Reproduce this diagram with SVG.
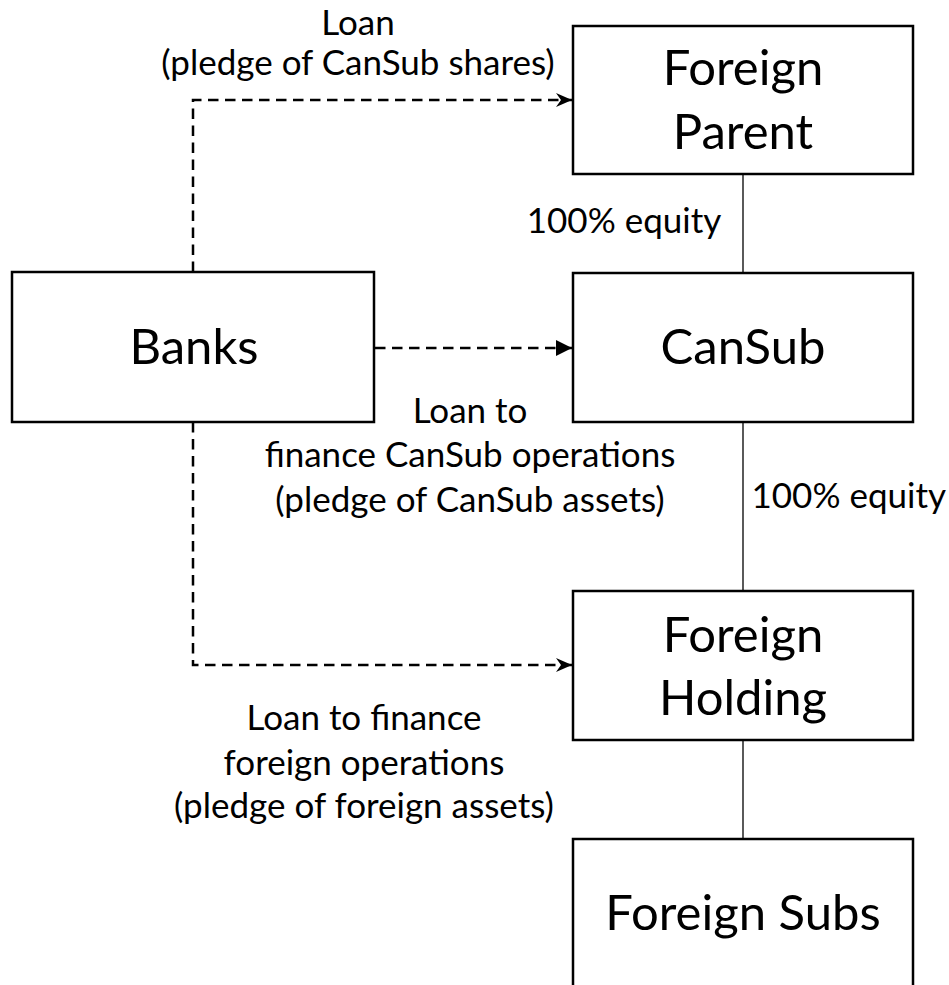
<svg xmlns="http://www.w3.org/2000/svg" width="949" height="985" viewBox="0 0 949 985">
  <style>
    .box { fill: #ffffff; stroke: #000000; stroke-width: 2.5; }
    .big { font-family: Lato, "Liberation Sans", sans-serif; font-size: 49px; fill: #000000; text-anchor: middle; }
    .small { font-family: Lato, "Liberation Sans", sans-serif; font-size: 35px; fill: #000000; text-anchor: middle; }
    .own { fill: none; stroke: #000000; stroke-width: 1.3; }
    .loan { fill: none; stroke: #000000; stroke-width: 2.5; stroke-dasharray: 10.5 6.5; }
  </style>
  <defs>
    <marker id="stealth" viewBox="0 0 16 14" refX="16" refY="7" markerWidth="16" markerHeight="14" markerUnits="userSpaceOnUse" orient="auto">
      <path d="M0,0 L16,7 L0,14 L5,7 Z" fill="#000000"/>
    </marker>
    <marker id="tri" viewBox="0 0 16 16" refX="16" refY="8" markerWidth="16" markerHeight="16" markerUnits="userSpaceOnUse" orient="auto">
      <path d="M0,0 L16,8 L0,16 Z" fill="#000000"/>
    </marker>
  </defs>

  <!-- connectors: ownership links and loans -->
  <g id="connectors">
    <line class="own" x1="743" y1="174" x2="743" y2="273"/>
    <line class="own" x1="743" y1="422" x2="743" y2="591"/>
    <line class="own" x1="743" y1="740" x2="743" y2="839"/>
    <path class="loan" d="M193,272 V100 H572" marker-end="url(#stealth)"/>
    <path class="loan" d="M375,348 H572" marker-end="url(#tri)"/>
    <path class="loan" d="M193,422 V665 H572" marker-end="url(#stealth)"/>
  </g>

  <!-- edge labels -->
  <g id="labels">
    <text class="small" x="358" y="35">Loan</text>
    <text class="small" x="358" y="75">(pledge of CanSub shares)</text>
    <text class="small" x="624" y="233">100% equity</text>
    <text class="small" x="470" y="423">Loan to</text>
    <text class="small" x="470" y="467">finance CanSub operations</text>
    <text class="small" x="470" y="512">(pledge of CanSub assets)</text>
    <text class="small" x="946" y="508" style="text-anchor: end">100% equity</text>
    <text class="small" x="364" y="730">Loan to finance</text>
    <text class="small" x="364" y="775">foreign operations</text>
    <text class="small" x="364" y="818">(pledge of foreign assets)</text>
  </g>

  <g id="foreign-parent">
    <rect class="box" x="573" y="26" width="340" height="148"/>
    <text class="big" x="743" y="85">Foreign</text>
    <text class="big" x="743" y="149">Parent</text>
  </g>

  <g id="banks">
    <rect class="box" x="12" y="272" width="362" height="150"/>
    <text class="big" x="194" y="364">Banks</text>
  </g>

  <g id="cansub">
    <rect class="box" x="573" y="273" width="340" height="149"/>
    <text class="big" x="743" y="364">CanSub</text>
  </g>

  <g id="foreign-holding">
    <rect class="box" x="573" y="591" width="340" height="149"/>
    <text class="big" x="743" y="652">Foreign</text>
    <text class="big" x="743" y="715">Holding</text>
  </g>

  <g id="foreign-subs">
    <rect class="box" x="573" y="839" width="340" height="160"/>
    <text class="big" x="743" y="930">Foreign Subs</text>
  </g>
</svg>
